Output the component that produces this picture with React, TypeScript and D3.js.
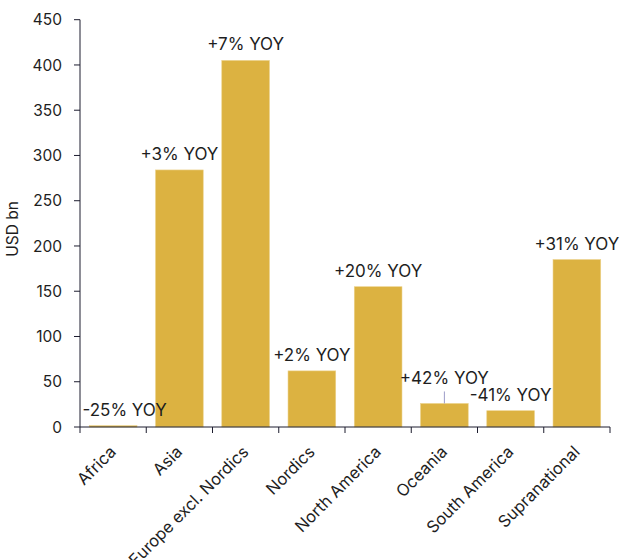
import React from "react";
import * as d3 from "d3";

const categories = [
  "Africa",
  "Asia",
  "Europe excl. Nordics",
  "Nordics",
  "North America",
  "Oceania",
  "South America",
  "Supranational",
];
const values = [1.5, 284, 405, 62, 155, 26, 18, 185];
const yoyLabels = [
  "-25% YOY",
  "+3% YOY",
  "+7% YOY",
  "+2% YOY",
  "+20% YOY",
  "+42% YOY",
  "-41% YOY",
  "+31% YOY",
];
const yTicks = [0, 50, 100, 150, 200, 250, 300, 350, 400, 450];
// label placement tweaks (dx, extra lift with leader line)
const labelShiftX = [11.5, 0, 0, 0, 0, 0, 0, 0];
const labelLift = [0, 0, 0, 0, 0, 9, 0, 0];

const W = 622;
const H = 560;
const FONT = "Inter, 'Noto Sans', sans-serif";
const AXIS = "#1c1c2e";
const BAR = "#DCB241";
const TXT = "#1e1e1e";

export default function App() {
  const x = d3
    .scaleBand<string>()
    .domain(categories)
    .range([80, 610])
    .paddingInner(0.28)
    .paddingOuter(0.14);
  const y = d3.scaleLinear().domain([0, 450]).range([427, 19.7]);
  const step = x.step();
  const edges = d3.range(categories.length + 1).map((i) => 80 + i * step);

  return (
    <div style={{ position: "fixed", left: 0, top: 0, width: W, height: H, background: "#fff" }}>
      <svg width={W} height={H} style={{ display: "block", fontFamily: FONT }}>
        {/* bars */}
        {categories.map((c, i) => (
          <rect
            key={c}
            x={x(c)!}
            y={y(values[i])}
            width={x.bandwidth()}
            height={y(0) - y(values[i])}
            fill={BAR}
            stroke="#ecd28c"
            strokeWidth={0.6}
          />
        ))}
        {/* y axis */}
        <line x1={80} x2={80} y1={y(450)} y2={y(0)} stroke={AXIS} strokeWidth={1} />
        {yTicks.map((t) => (
          <g key={t} transform={`translate(0,${y(t)})`}>
            <line x1={74} x2={80} stroke={AXIS} strokeWidth={1} />
            <text x={62} dy="0.36em" textAnchor="end" fontSize={15.5} fill={TXT}>
              {t}
            </text>
          </g>
        ))}
        <text
          transform={`translate(17.5,229) rotate(-90)`}
          textAnchor="middle"
          fontSize={15.5}
          fill={TXT}
        >
          USD bn
        </text>
        {/* x axis */}
        <line x1={80} x2={610} y1={y(0)} y2={y(0)} stroke={AXIS} strokeWidth={1} />
        {edges.map((e, i) => (
          <line key={i} x1={e} x2={e} y1={y(0)} y2={y(0) + 6} stroke={AXIS} strokeWidth={1} />
        ))}
        {categories.map((c) => {
          const cx = x(c)! + x.bandwidth() / 2;
          return (
            <text
              key={c}
              transform={`translate(${cx + 4},${y(0) + 26}) rotate(-45)`}
              textAnchor="end"
              fontSize={16.5}
              fill={TXT}
            >
              {c}
            </text>
          );
        })}
        {/* value labels */}
        {categories.map((c, i) => {
          const cx = x(c)! + x.bandwidth() / 2;
          const top = y(values[i]);
          const lift = labelLift[i];
          return (
            <g key={c}>
              {lift > 0 && (
                <line x1={cx} x2={cx} y1={top} y2={top - 12} stroke="#9b9bc8" strokeWidth={1} />
              )}
              <text
                x={cx + labelShiftX[i]}
                y={top - 10 - lift}
                textAnchor="middle"
                fontSize={17}
                fill={TXT}
              >
                {yoyLabels[i]}
              </text>
            </g>
          );
        })}
      </svg>
    </div>
  );
}
